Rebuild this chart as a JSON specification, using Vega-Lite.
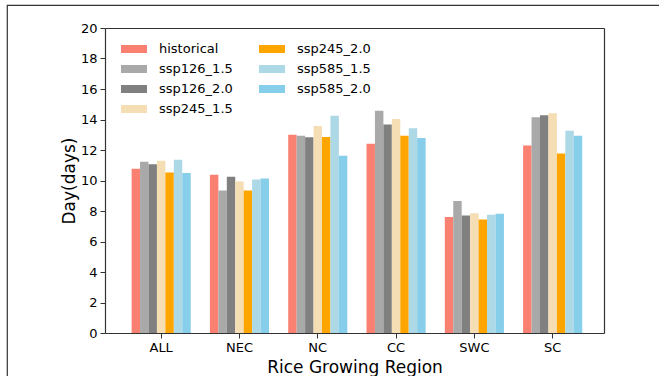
{
  "$schema": "https://vega.github.io/schema/vega-lite/v6.json",
  "autosize": "none",
  "padding": {"left": 7, "top": 5, "right": 0, "bottom": 0},
  "width": 662,
  "height": 381,
  "background": "white",
  "data": {"values": [
    {"region": "ALL", "scenario": "historical", "days": 10.77},
    {"region": "ALL", "scenario": "ssp126_1.5", "days": 11.23},
    {"region": "ALL", "scenario": "ssp126_2.0", "days": 11.07},
    {"region": "ALL", "scenario": "ssp245_1.5", "days": 11.3},
    {"region": "ALL", "scenario": "ssp245_2.0", "days": 10.53},
    {"region": "ALL", "scenario": "ssp585_1.5", "days": 11.36},
    {"region": "ALL", "scenario": "ssp585_2.0", "days": 10.5},
    {"region": "NEC", "scenario": "historical", "days": 10.38},
    {"region": "NEC", "scenario": "ssp126_1.5", "days": 9.34},
    {"region": "NEC", "scenario": "ssp126_2.0", "days": 10.24},
    {"region": "NEC", "scenario": "ssp245_1.5", "days": 9.93},
    {"region": "NEC", "scenario": "ssp245_2.0", "days": 9.34},
    {"region": "NEC", "scenario": "ssp585_1.5", "days": 10.07},
    {"region": "NEC", "scenario": "ssp585_2.0", "days": 10.13},
    {"region": "NC", "scenario": "historical", "days": 13.0},
    {"region": "NC", "scenario": "ssp126_1.5", "days": 12.94},
    {"region": "NC", "scenario": "ssp126_2.0", "days": 12.83},
    {"region": "NC", "scenario": "ssp245_1.5", "days": 13.58},
    {"region": "NC", "scenario": "ssp245_2.0", "days": 12.85},
    {"region": "NC", "scenario": "ssp585_1.5", "days": 14.24},
    {"region": "NC", "scenario": "ssp585_2.0", "days": 11.62},
    {"region": "CC", "scenario": "historical", "days": 12.41},
    {"region": "CC", "scenario": "ssp126_1.5", "days": 14.57},
    {"region": "CC", "scenario": "ssp126_2.0", "days": 13.67},
    {"region": "CC", "scenario": "ssp245_1.5", "days": 14.04},
    {"region": "CC", "scenario": "ssp245_2.0", "days": 12.94},
    {"region": "CC", "scenario": "ssp585_1.5", "days": 13.42},
    {"region": "CC", "scenario": "ssp585_2.0", "days": 12.79},
    {"region": "SWC", "scenario": "historical", "days": 7.6},
    {"region": "SWC", "scenario": "ssp126_1.5", "days": 8.66},
    {"region": "SWC", "scenario": "ssp126_2.0", "days": 7.71},
    {"region": "SWC", "scenario": "ssp245_1.5", "days": 7.86},
    {"region": "SWC", "scenario": "ssp245_2.0", "days": 7.45},
    {"region": "SWC", "scenario": "ssp585_1.5", "days": 7.75},
    {"region": "SWC", "scenario": "ssp585_2.0", "days": 7.82},
    {"region": "SC", "scenario": "historical", "days": 12.3},
    {"region": "SC", "scenario": "ssp126_1.5", "days": 14.15},
    {"region": "SC", "scenario": "ssp126_2.0", "days": 14.28},
    {"region": "SC", "scenario": "ssp245_1.5", "days": 14.41},
    {"region": "SC", "scenario": "ssp245_2.0", "days": 11.77},
    {"region": "SC", "scenario": "ssp585_1.5", "days": 13.27},
    {"region": "SC", "scenario": "ssp585_2.0", "days": 12.94}
  ]},
  "layer": [
    {
      "mark": {"type": "bar"},
      "encoding": {
        "x": {
          "field": "region", "type": "nominal",
          "sort": ["ALL", "NEC", "NC", "CC", "SWC", "SC"],
          "scale": {"range": [98, 597], "paddingInner": 0.245, "paddingOuter": 0.309, "align": 0.55},
          "axis": {"orient": "bottom", "offset": -53, "title": "Rice Growing Region", "labelAngle": 0, "titlePadding": 5, "labelPadding": 3}
        },
        "xOffset": {
          "field": "scenario", "type": "nominal",
          "sort": ["historical", "ssp126_1.5", "ssp126_2.0", "ssp245_1.5", "ssp245_2.0", "ssp585_1.5", "ssp585_2.0"],
          "scale": {"paddingInner": 0, "paddingOuter": 0}
        },
        "y": {
          "field": "days", "type": "quantitative", "stack": null,
          "scale": {"domain": [0, 20], "range": [328, 23], "nice": false, "zero": true},
          "axis": {"orient": "left", "offset": -98, "title": "Day(days)", "values": [0, 2, 4, 6, 8, 10, 12, 14, 16, 18, 20], "grid": false, "titlePadding": 2, "labelPadding": 3}
        },
        "color": {
          "field": "scenario", "type": "nominal",
          "scale": {
            "domain": ["historical", "ssp126_1.5", "ssp126_2.0", "ssp245_1.5", "ssp245_2.0", "ssp585_1.5", "ssp585_2.0"],
            "range": ["#FA8072", "#A9A9A9", "#808080", "#F5DEB3", "#FFA500", "#ADD8E6", "#87CEEB"]
          },
          "legend": {
            "title": null,
            "orient": "none",
            "legendX": 114,
            "legendY": 31,
            "columns": 2,
            "direction": "vertical",
            "symbolType": "M-1,-0.3077L1,-0.3077L1,0.3077L-1,0.3077Z",
            "symbolSize": 676,
            "symbolStrokeWidth": 0,
            "symbolOpacity": 1,
            "labelOffset": 12,
            "labelFontSize": 13,
            "labelColor": "#000",
            "labelFont": "DejaVu Sans",
            "columnPadding": 26,
            "rowPadding": -1,
            "padding": 0
          }
        }
      }
    },
    {
      "mark": {"type": "bar", "opacity": 0},
      "encoding": {
        "x": {
          "field": "region", "type": "nominal",
          "sort": ["ALL", "NEC", "NC", "CC", "SWC", "SC"],
          "axis": {"orient": "top", "offset": -23, "title": null, "labels": false, "ticks": false, "domain": true}
        },
        "y": {
          "field": "days", "type": "quantitative", "stack": null,
          "axis": {"orient": "right", "offset": -65, "title": null, "labels": false, "ticks": false, "domain": true, "grid": false}
        }
      }
    }
  ],
  "resolve": {"axis": {"x": "independent", "y": "independent"}},
  "config": {
    "font": "DejaVu Sans",
    "view": {"stroke": "#333", "strokeWidth": 1.2},
    "bar": {"opacity": 1},
    "axis": {
      "domainColor": "#333",
      "domainWidth": 1.2,
      "tickColor": "#333",
      "tickSize": 5,
      "labelFontSize": 13,
      "labelColor": "#000",
      "labelFont": "DejaVu Sans",
      "titleFont": "DejaVu Sans",
      "titleFontSize": 17,
      "titleFontWeight": "normal",
      "titleColor": "#000"
    }
  }
}
